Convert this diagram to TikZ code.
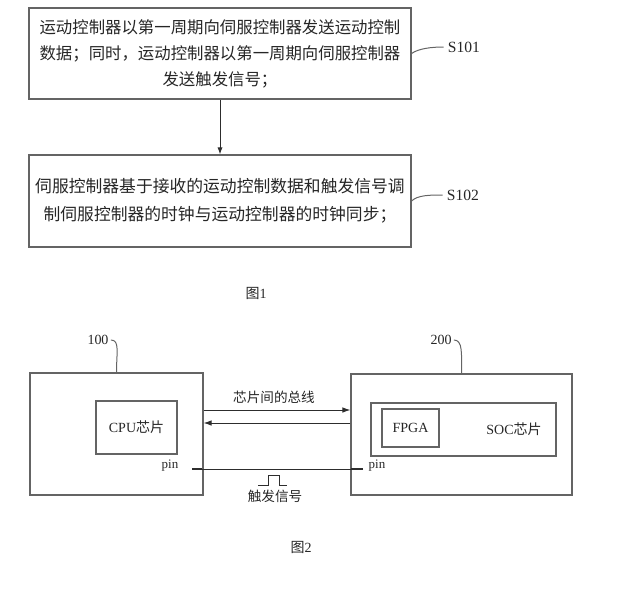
\documentclass[tikz,border=0pt]{standalone}
\usepackage{fontspec}
\setmainfont{Liberation Serif}
\newfontfamily\cjk{Noto Sans CJK SC}
\usepackage{tikz}
\usetikzlibrary{arrows.meta, calc}
\definecolor{framegray}{RGB}{100,100,100}
\definecolor{wiregray}{RGB}{45,45,45}

\begin{document}
\begin{tikzpicture}[x=0.5pt, y=-0.5pt, every node/.style={font=\fontsize{7}{9}\selectfont, text=black!85, inner sep=1pt},
    stepbox/.style={draw=framegray, line width=0.6pt, align=center, minimum width=191pt},
    steplbl/.style={font=\fontsize{7.8}{9}\selectfont, inner sep=2pt},
    blockbox/.style={draw=framegray, line width=0.6pt},
    cjklbl/.style={font=\fontsize{6.8}{9}\selectfont\cjk}]
            \useasboundingbox (0,0) rectangle (617,594);
            \node[stepbox, minimum height=45.5pt, font=\fontsize{8.2}{13}\selectfont\cjk] (step1) at (220,53.5) {
                运动控制器以第一周期向伺服控制器发送运动控制\\数据；同时，运动控制器以第一周期向伺服控制器\\发送触发信号；
            };
            \node[stepbox, minimum height=46pt, font=\fontsize{8.4}{14}\selectfont\cjk] (step2) at (220,201) {
                伺服控制器基于接收的运动控制数据和触发信号调\\制伺服控制器的时钟与运动控制器的时钟同步；
            };
            \draw[-{Latex[length=3.5pt, width=2.6pt]}, wiregray, line width=0.5pt] (step1) -- (step2);
            \node[steplbl] (s101) at (464,47) {S101};
            \node[steplbl] (s102) at (463,195) {S102};
            \draw[framegray, line width=0.5pt] (step1.east) .. controls +(7,-5) and +(-12,0) .. (s101.west);
            \draw[framegray, line width=0.5pt] (step2.east) .. controls +(6,-6) and +(-12,0) .. (s102.west);
            \node[font=\fontsize{7}{9}\selectfont] (fig1) at (256,293) {{\cjk 图}1};

            \node[blockbox, minimum width=86.5pt, minimum height=61pt] (sys100) at (116.5,434) {};
            \node[blockbox, minimum width=40.5pt, minimum height=26.5pt] (cpu) at (136.5,427.5) {CPU{\cjk 芯片}};
            \node[blockbox, minimum width=110.5pt, minimum height=60.5pt] (sys200) at (461.5,434.5) {};
            \node[blockbox, minimum width=92.5pt, minimum height=26.5pt] (soc) at (463.5,429.5) {};
            \node[blockbox, minimum width=28.5pt, minimum height=19pt] (fpga) at (410.5,428) {FPGA};
            \node (soclbl) at (514,429) {SOC{\cjk 芯片}};
            \node[font=\fontsize{6.5}{9}\selectfont] (pinA) at (170,466) {pin};
            \node[font=\fontsize{6.5}{9}\selectfont] (pinB) at (377,466) {pin};
            \node (num100) at (98,340) {100};
            \node (num200) at (441,340) {200};
            \draw[framegray, line width=0.5pt] (num100.east) .. controls +(9,0) and +(0,-20) .. (sys100.north);
            \draw[framegray, line width=0.5pt] (num200.east) .. controls +(9,0) and +(0,-20) .. (sys200.north);
            \draw[-{Latex[length=4pt, width=2.8pt]}, wiregray, line width=0.5pt] ([yshift=12pt]sys100.east) -- ([yshift=12pt]sys100.east -| sys200.west);
            \draw[-{Latex[length=4pt, width=2.8pt]}, wiregray, line width=0.5pt] ([yshift=5.5pt]sys100.east -| sys200.west) -- ([yshift=5.5pt]sys100.east);
            \node[cjklbl] (buslbl) at (274,397) {芯片间的总线};
            \coordinate (pinL) at (192,469);
            \coordinate (pinR) at (363,469);
            \draw[wiregray, line width=0.5pt] (pinL) -- (pinR);
            \draw[wiregray, line width=1.3pt] (pinL) -- ++(10,0);
            \draw[wiregray, line width=1.3pt] (pinR) -- ++(-12,0);
            \draw[wiregray, line width=0.5pt] (258,485) -- ++(10,0) -- ++(0,-10) -- ++(11,0) -- ++(0,10) -- ++(8,0);
            \node[cjklbl] (trig) at (275,496) {触发信号};
            \node (fig2) at (301,547) {{\cjk 图}2};
        \end{tikzpicture}
\end{document}
